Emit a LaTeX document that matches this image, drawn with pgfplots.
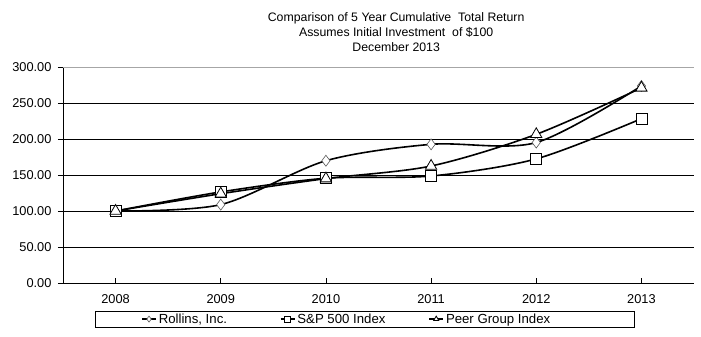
\documentclass[border=0pt]{standalone}
\usepackage{pgfplots}
\pgfplotsset{compat=1.18}
\usepackage{fontspec}
\setmainfont{Liberation Sans}
\begin{document}
\begin{tikzpicture}
\useasboundingbox (-63pt,-54pt) rectangle (638pt,283pt);
\begin{axis}[
  at={(0pt,0pt)}, anchor=south west,
  scale only axis, width=631pt, height=216pt,
  xmin=-0.5, xmax=5.5, ymin=0, ymax=300,
  axis x line*=bottom, axis y line*=left,
  axis line style={black, line width=0.8pt},
  xtick={0,1,2,3,4,5},
  xticklabels={2008,2009,2010,2011,2012,2013},
  ytick={0,50,100,150,200,250},
  extra y ticks={300},
  extra y tick style={grid style={gray!70, line width=0.8pt}},
  ymajorgrids, grid style={black, line width=0.8pt},
  tick align=outside, major tick length=5pt,
  tick style={black, line width=0.8pt},
  x tick style={yshift=5pt},
  yticklabel style={/pgf/number format/fixed, /pgf/number format/fixed zerofill, /pgf/number format/precision=2, xshift=-3pt},
  /pgf/number format/assume math mode=true,
  tick label style={font=\fontsize{12.8}{14}\selectfont},
  xticklabel style={yshift=-3pt},
  title={Comparison of 5 Year Cumulative\ \ Total Return\\Assumes Initial Investment\ \ of \$100\\December 2013},
  title style={at={(0.528,1)}, anchor=south, yshift=6pt, align=center, font=\fontsize{12.3}{15}\selectfont},
  legend columns=3,
  legend style={at={(0.478,-0.167)}, anchor=center, draw=black, line width=0.8pt,
    font=\fontsize{13.2}{14}\selectfont, inner xsep=46pt, inner ysep=0.5pt,
    /tikz/every even column/.append style={column sep=0pt}},
  legend image code/.code={
    \draw[#1, line width=1.6pt, mark size=3pt] (0pt,0pt) -- (14pt,0pt);
    \draw[#1, mark size=3pt, only marks] plot coordinates {(7pt,0pt)};
  },
]
\addplot[black, line width=1.6pt, smooth, tension=0.5, mark=diamond*, mark size=5.5pt,
  mark options={fill=white, draw=gray!70!black, line width=0.6pt}]
  coordinates {(0,100) (1,108.9) (2,169.8) (3,192.6) (4,195.1) (5,273.7)};
\addlegendentry{\makebox[119pt][l]{Rollins, Inc.}}
\addplot[black, line width=1.6pt, smooth, tension=0.5, mark=square*, mark size=5.5pt,
  mark options={fill=white, draw=black, line width=0.8pt}]
  coordinates {(0,100) (1,126.5) (2,145.5) (3,148.6) (4,172.4) (5,228.2)};
\addlegendentry{\makebox[129pt][l]{S\&P 500 Index}}
\addplot[black, line width=1.6pt, smooth, tension=0.5, mark=triangle*, mark size=6.5pt,
  mark options={fill=white, draw=black, line width=0.8pt}]
  coordinates {(0,100) (1,124.0) (2,145.0) (3,162.5) (4,206.5) (5,271.0)};
\addlegendentry{\makebox[140pt][l]{Peer Group Index}}
\end{axis}
\end{tikzpicture}
\end{document}
